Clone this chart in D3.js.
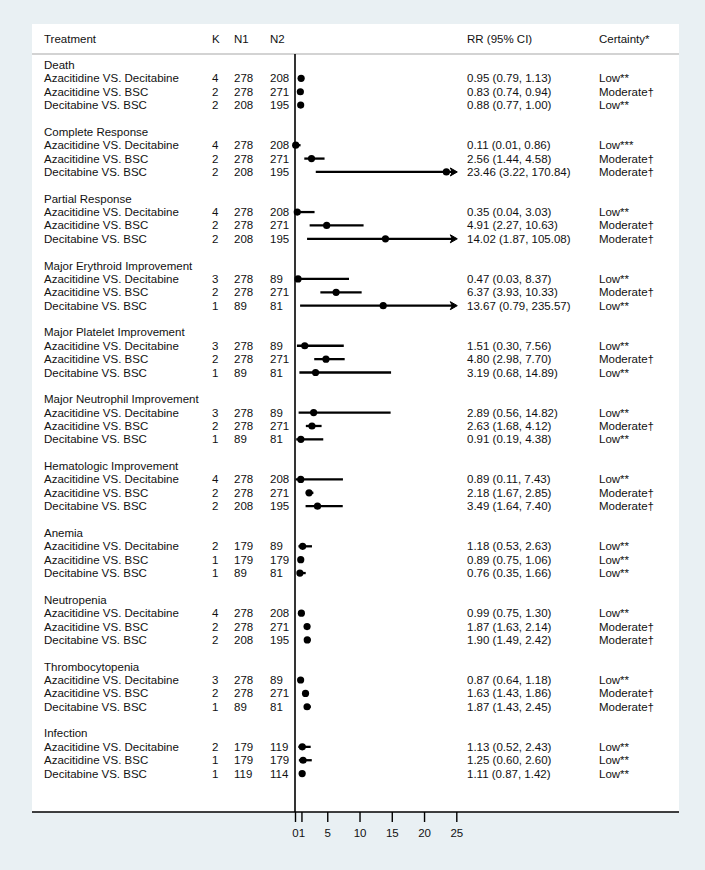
<!DOCTYPE html>
<html>
<head>
<meta charset="utf-8">
<script src="https://cdn.jsdelivr.net/npm/d3@7"></script>
<style>
  body { margin: 0; background: #e9f0f3; }
  svg text { font-family: "Liberation Sans", Arial, Helvetica, sans-serif; font-size: 11.5px; fill: #111; }
</style>
</head>
<body>
<script>
// outcome groups and the three comparisons inside each one
const groups = [
  'Death', 'Complete Response', 'Partial Response', 'Major Erythroid Improvement',
  'Major Platelet Improvement', 'Major Neutrophil Improvement', 'Hematologic Improvement',
  'Anemia', 'Neutropenia', 'Thrombocytopenia', 'Infection'
];
const comparisons = ['Azacitidine VS. Decitabine', 'Azacitidine VS. BSC', 'Decitabine VS. BSC'];

// one entry per group, three values (one per comparison)
const kValues = [[4,2,2],[4,2,2],[4,2,2],[3,2,1],[3,2,1],[3,2,1],[4,2,2],[2,1,1],[4,2,2],[3,2,1],[2,1,1]];
const n1Values = [[278,278,208],[278,278,208],[278,278,208],[278,278,89],[278,278,89],[278,278,89],
  [278,278,208],[179,179,89],[278,278,208],[278,278,89],[179,179,119]];
const n2Values = [[208,271,195],[208,271,195],[208,271,195],[89,271,81],[89,271,81],[89,271,81],
  [208,271,195],[89,179,81],[208,271,195],[89,271,81],[119,179,114]];
const rrValues = [[0.95,0.83,0.88],[0.11,2.56,23.46],[0.35,4.91,14.02],[0.47,6.37,13.67],[1.51,4.80,3.19],
  [2.89,2.63,0.91],[0.89,2.18,3.49],[1.18,0.89,0.76],[0.99,1.87,1.90],[0.87,1.63,1.87],[1.13,1.25,1.11]];
const lowerCI = [[0.79,0.74,0.77],[0.01,1.44,3.22],[0.04,2.27,1.87],[0.03,3.93,0.79],[0.30,2.98,0.68],
  [0.56,1.68,0.19],[0.11,1.67,1.64],[0.53,0.75,0.35],[0.75,1.63,1.49],[0.64,1.43,1.43],[0.52,0.60,0.87]];
const upperCI = [[1.13,0.94,1.00],[0.86,4.58,170.84],[3.03,10.63,105.08],[8.37,10.33,235.57],[7.56,7.70,14.89],
  [14.82,4.12,4.38],[7.43,2.85,7.40],[2.63,1.06,1.66],[1.30,2.14,2.42],[1.18,1.86,2.45],[2.43,2.60,1.42]];
const certainty = [
  ['Low**','Moderate\u2020','Low**'], ['Low***','Moderate\u2020','Moderate\u2020'],
  ['Low**','Moderate\u2020','Moderate\u2020'], ['Low**','Moderate\u2020','Low**'],
  ['Low**','Moderate\u2020','Low**'], ['Low**','Moderate\u2020','Low**'],
  ['Low**','Moderate\u2020','Moderate\u2020'], ['Low**','Low**','Low**'],
  ['Low**','Moderate\u2020','Moderate\u2020'], ['Low**','Moderate\u2020','Moderate\u2020'],
  ['Low**','Low**','Low**']
];
const xTicks = [0, 1, 5, 10, 15, 20, 25];

const width = 705;
const height = 870;
const panel = { left: 32, right: 679, top: 24, bottom: 812 };
const headerY = 39;
const headerLine = 54;

const svg = d3.select('body')
  .append('svg')
  .attr('width', width)
  .attr('height', height);

// white plot region
svg.append('rect')
  .attr('x', panel.left)
  .attr('y', panel.top)
  .attr('width', panel.right - panel.left)
  .attr('height', panel.bottom - panel.top)
  .attr('fill', '#fff');

// scales: x for RR, y for row index
const xMax = 25;
const x = d3.scaleLinear().domain([0, xMax]).range([295, 456.3]);
const y = d3.scaleLinear().domain([0, 53]).range([65, 773.6]);

// column positions
const col = { treat: 44, k: 212, n1: 234, n2: 270, rr: 467, cert: 599 };

// header
const header = [['Treatment', col.treat], ['K', col.k], ['N1', col.n1], ['N2', col.n2],
  ['RR (95% CI)', col.rr], ['Certainty*', col.cert]];
svg.selectAll('text.head')
  .data(header)
  .enter()
  .append('text')
  .attr('class', 'head')
  .attr('x', d => d[1])
  .attr('y', headerY + 4)
  .text(d => d[0]);

svg.append('line')
  .attr('x1', panel.left).attr('x2', panel.right)
  .attr('y1', headerLine).attr('y2', headerLine)
  .attr('stroke', '#c4c4c4')
  .attr('stroke-width', 1.5);

// flatten rows
const rows = [];
groups.forEach((g, gi) => {
  comparisons.forEach((c, ci) => {
    rows.push({
      idx: gi * 5 + ci + 1,
      label: c,
      k: kValues[gi][ci],
      n1: n1Values[gi][ci],
      n2: n2Values[gi][ci],
      rr: rrValues[gi][ci],
      lo: lowerCI[gi][ci],
      hi: upperCI[gi][ci],
      cert: certainty[gi][ci]
    });
  });
});

// group titles
svg.selectAll('text.group')
  .data(groups)
  .enter()
  .append('text')
  .attr('class', 'group')
  .attr('x', col.treat)
  .attr('y', (d, i) => y(i * 5) + 4)
  .text(d => d);

// row text columns
const rowText = [
  ['label', col.treat, d => d.label],
  ['k', col.k, d => d.k],
  ['n1', col.n1, d => d.n1],
  ['n2', col.n2, d => d.n2],
  ['rr', col.rr, d => `${d.rr.toFixed(2)} (${d.lo.toFixed(2)}, ${d.hi.toFixed(2)})`],
  ['cert', col.cert, d => d.cert]
];
rowText.forEach(([cls, cx, fn]) => {
  svg.selectAll('text.' + cls)
    .data(rows)
    .enter()
    .append('text')
    .attr('class', cls)
    .attr('x', cx)
    .attr('y', d => y(d.idx) + 4)
    .text(fn);
});

// confidence interval lines (clipped at the axis max, arrow if beyond)
svg.selectAll('line.ci')
  .data(rows)
  .enter()
  .append('line')
  .attr('class', 'ci')
  .attr('x1', d => x(d.lo))
  .attr('x2', d => d.hi > xMax ? x(xMax) - 3 : x(d.hi))
  .attr('y1', d => y(d.idx))
  .attr('y2', d => y(d.idx))
  .attr('stroke', '#000')
  .attr('stroke-width', 2.3);

svg.selectAll('path.arrow')
  .data(rows.filter(d => d.hi > xMax))
  .enter()
  .append('path')
  .attr('class', 'arrow')
  .attr('d', d => {
    const tx = x(xMax) + 1;
    const ty = y(d.idx);
    return `M${tx},${ty} L${tx - 7},${ty - 4} L${tx - 5},${ty} L${tx - 7},${ty + 4} Z`;
  })
  .attr('fill', '#000')
  .attr('stroke', '#000')
  .attr('stroke-width', 1);

// point estimates
svg.selectAll('circle.pt')
  .data(rows)
  .enter()
  .append('circle')
  .attr('class', 'pt')
  .attr('cx', d => x(d.rr))
  .attr('cy', d => y(d.idx))
  .attr('r', 3.6)
  .attr('fill', '#000');

// vertical reference line at 0
svg.append('line')
  .attr('x1', x(0)).attr('x2', x(0))
  .attr('y1', headerLine).attr('y2', panel.bottom)
  .attr('stroke', '#000')
  .attr('stroke-width', 1.6);

// bottom axis
svg.append('line')
  .attr('x1', panel.left).attr('x2', panel.right)
  .attr('y1', panel.bottom).attr('y2', panel.bottom)
  .attr('stroke', '#000')
  .attr('stroke-width', 1.6);

const axis = d3.axisBottom(x)
  .tickValues(xTicks)
  .tickSize(10)
  .tickPadding(7)
  .tickFormat(d3.format('d'));

const gAxis = svg.append('g')
  .attr('transform', `translate(0,${panel.bottom})`)
  .call(axis);
gAxis.select('.domain').remove();
gAxis.selectAll('.tick line').attr('stroke', '#000').attr('stroke-width', 1.4);
gAxis.selectAll('.tick text')
  .attr('font-family', '"Liberation Sans", Arial, sans-serif')
  .attr('font-size', 11.5)
  .attr('fill', '#111');
</script>
</body>
</html>
